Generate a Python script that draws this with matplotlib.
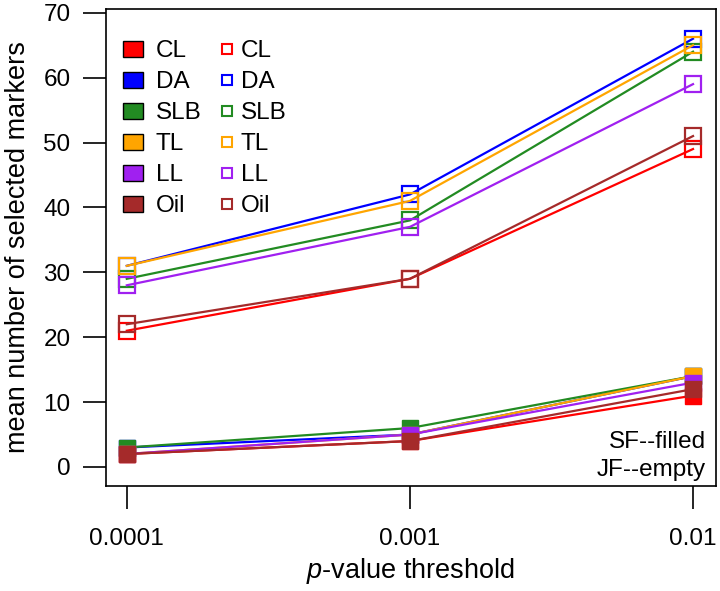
import matplotlib
matplotlib.use('Agg')
import matplotlib.pyplot as plt
from matplotlib.patches import Patch
from matplotlib.lines import Line2D

plt.rcParams['font.family'] = ['Liberation Sans', 'DejaVu Sans']
plt.rcParams['mathtext.fontset'] = 'custom'
plt.rcParams['mathtext.it'] = 'Liberation Sans:italic'
plt.rcParams['mathtext.rm'] = 'Liberation Sans'

# p-value thresholds (categorical positions on x)
thresholds = ['0.0001', '0.001', '0.01']
groups = ['CL', 'DA', 'SLB', 'TL', 'LL', 'Oil']
colors = ['#FF0000', '#0000FF', '#228B22', '#FFA500', '#A020F0', '#A52A2A']

# SF (filled markers)
sf_CL = [2, 4, 11]
sf_DA = [3, 5, 14]
sf_SLB = [3, 6, 14]
sf_TL = [2, 5, 14]
sf_LL = [2, 5, 13]
sf_Oil = [2, 4, 12]

# JF (empty markers)
jf_CL = [21, 29, 49]
jf_DA = [31, 42, 66]
jf_SLB = [29, 38, 64]
jf_TL = [31, 41, 65]
jf_LL = [28, 37, 59]
jf_Oil = [22, 29, 51]

sf = [sf_CL, sf_DA, sf_SLB, sf_TL, sf_LL, sf_Oil]
jf = [jf_CL, jf_DA, jf_SLB, jf_TL, jf_LL, jf_Oil]
xpos = [1, 2, 3]
FS = 17.5
LFS = 19.5

fig = plt.figure(figsize=(7.2, 5.91), dpi=100)
ax = fig.add_axes([0.147, 0.178, 0.847, 0.807])

for vals, c in zip(jf, colors):
    ax.plot(xpos, vals, color=c, lw=1.6, marker='s', ms=12,
            mfc='none', mec=c, mew=1.6)
for vals, c in zip(sf, colors):
    ax.plot(xpos, vals, color=c, lw=1.6, marker='s', ms=12,
            mfc=c, mec=c, mew=1.0)

ax.set_xlim(0.926, 3.08)
ax.set_ylim(-2.9, 70.6)
ax.set_xticks(xpos)
ax.set_xticklabels(thresholds)
ax.set_yticks(range(0, 71, 10))
ax.tick_params(axis='both', labelsize=FS, length=16.5, width=1.2, direction='out')
ax.tick_params(axis='x', pad=14)
ax.tick_params(axis='y', pad=9)
for s in ax.spines.values():
    s.set_linewidth(1.2)

ax.set_xlabel('$p$-value threshold', fontsize=LFS, labelpad=4)
ax.set_ylabel('mean number of selected markers', fontsize=LFS, labelpad=9)

# legend: filled boxes (SF) column
h_sf = [Patch(facecolor=c, edgecolor='black', lw=1.0) for c in colors]
leg1 = ax.legend(h_sf, groups, loc='upper left', bbox_to_anchor=(0.028, 0.934),
                 frameon=False, fontsize=FS, handlelength=0.82, handleheight=0.62,
                 handletextpad=0.53, labelspacing=0.37, borderaxespad=0.0,
                 borderpad=0.0)
ax.add_artist(leg1)

# legend: empty squares (JF) column
h_jf = [Line2D([], [], ls='none', marker='s', ms=6.5, mfc='none', mec=c, mew=1.5)
        for c in colors]
ax.legend(h_jf, groups, loc='upper left', bbox_to_anchor=(0.1885, 0.934),
          frameon=False, fontsize=FS, handlelength=0.5, handleheight=0.62,
          handletextpad=0.33, labelspacing=0.37, borderaxespad=0.0,
          borderpad=0.0)

ax.text(0.984, 0.092, 'SF--filled', transform=ax.transAxes, ha='right',
        va='center', fontsize=FS)
ax.text(0.984, 0.034, 'JF--empty', transform=ax.transAxes, ha='right',
        va='center', fontsize=FS)

fig.savefig('out.png', dpi=100)
